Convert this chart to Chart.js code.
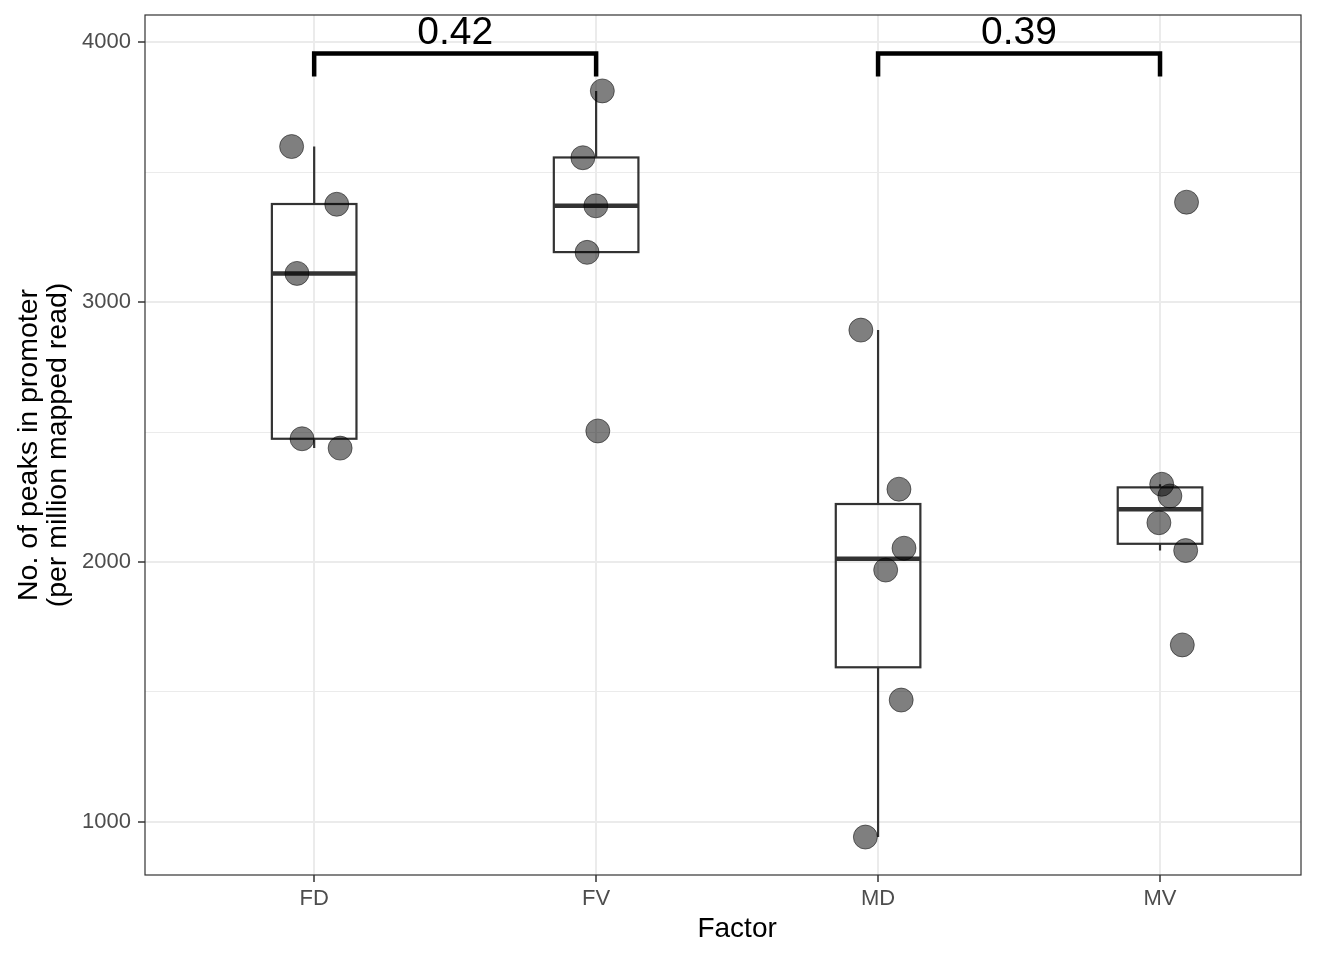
<!DOCTYPE html>
<html>
<head>
<meta charset="utf-8">
<script src="https://cdn.jsdelivr.net/npm/chart.js@4/dist/chart.umd.min.js"></script>
<style>
body { margin: 0; background: #fff; }
</style>
</head>
<body>
<canvas id="peakChart" width="1344" height="960"></canvas>
<script>
// categories
const factors = ["FD", "FV", "MD", "MV"];

// jittered points, x = category position + jitter
const fdX = [0.920, 1.080, 0.939, 0.957, 1.092];
const fdY = [3598, 3376, 3110, 2474, 2438];
const fvX = [2.022, 1.953, 1.999, 1.968, 2.006];
const fvY = [3812, 3555, 3370, 3191, 2504];
const mdX = [2.939, 3.074, 3.092, 3.027, 3.082, 2.955];
const mdY = [2892, 2280, 2053, 1969, 1469, 942];
const mvX = [4.094, 4.006, 4.035, 3.996, 4.091, 4.079];
const mvY = [3384, 2299, 2254, 2151, 2044, 1681];

// box statistics per factor
const boxLow    = [2438, 3191, 942, 2044];
const boxQ1     = [2474, 3192, 1595, 2070];
const boxMedian = [3110, 3370, 2012, 2203];
const boxQ3     = [3377, 3556, 2223, 2287];
const boxHigh   = [3598, 3812, 2892, 2299];

// comparison brackets
const compFrom  = [1, 3];
const compTo    = [2, 4];
const compLabel = ["0.42", "0.39"];
const bracketTop  = 3956;
const bracketFoot = 3867;
const labelBase   = 3992;

const yTicks = [1000, 1500, 2000, 2500, 3000, 3500, 4000];

Chart.defaults.font.family = "'Liberation Sans', Arial, sans-serif";

function pts(xs, ys) {
  return xs.map((x, i) => ({ x: x, y: ys[i] }));
}

const pointStyle = {
  type: "scatter",
  backgroundColor: "rgba(0,0,0,0.5)",
  borderColor: "rgba(0,0,0,0.5)",
  borderWidth: 1,
  pointRadius: 12,
  order: 1
};

const datasets = [
  Object.assign({ label: "FD", data: pts(fdX, fdY) }, pointStyle),
  Object.assign({ label: "FV", data: pts(fvX, fvY) }, pointStyle),
  Object.assign({ label: "MD", data: pts(mdX, mdY) }, pointStyle),
  Object.assign({ label: "MV", data: pts(mvX, mvY) }, pointStyle)
];

compFrom.forEach((a, i) => {
  const b = compTo[i];
  datasets.push({
    type: "line",
    label: "cmp" + i,
    data: [{ x: a, y: bracketFoot }, { x: a, y: bracketTop }, { x: b, y: bracketTop }, { x: b, y: bracketFoot }],
    borderColor: "#000",
    borderWidth: 4.5,
    borderJoinStyle: "miter",
    pointRadius: 0,
    fill: false,
    tension: 0,
    order: 0
  });
});

const boxPlugin = {
  id: "boxes",
  beforeDatasetsDraw(chart) {
    const { ctx, scales: { x, y } } = chart;
    ctx.save();
    ctx.strokeStyle = "#333333";
    factors.forEach((f, i) => {
      const cx = x.getPixelForValue(i + 1);
      const l = x.getPixelForValue(i + 1 - 0.15);
      const r = x.getPixelForValue(i + 1 + 0.15);
      const yq1 = y.getPixelForValue(boxQ1[i]);
      const yq3 = y.getPixelForValue(boxQ3[i]);
      const ym = y.getPixelForValue(boxMedian[i]);
      ctx.lineWidth = 2.2;
      ctx.beginPath();
      ctx.moveTo(cx, yq3); ctx.lineTo(cx, y.getPixelForValue(boxHigh[i]));
      ctx.moveTo(cx, yq1); ctx.lineTo(cx, y.getPixelForValue(boxLow[i]));
      ctx.stroke();
      ctx.strokeRect(l, yq3, r - l, yq1 - yq3);
      ctx.lineWidth = 4.5;
      ctx.beginPath();
      ctx.moveTo(l, ym); ctx.lineTo(r, ym);
      ctx.stroke();
    });
    ctx.restore();
  },
  afterDraw(chart) {
    const { ctx, chartArea: a, scales: { x, y } } = chart;
    ctx.save();
    // panel border
    ctx.strokeStyle = "#333333";
    ctx.lineWidth = 1.2;
    ctx.strokeRect(a.left, a.top, a.right - a.left, a.bottom - a.top);
    // p-values
    ctx.fillStyle = "#000";
    ctx.font = "39px 'Liberation Sans', Arial, sans-serif";
    ctx.textAlign = "center";
    ctx.textBaseline = "alphabetic";
    compLabel.forEach((t, i) => {
      ctx.fillText(t, x.getPixelForValue((compFrom[i] + compTo[i]) / 2), y.getPixelForValue(labelBase));
    });
    // x axis title
    ctx.font = "28px 'Liberation Sans', Arial, sans-serif";
    ctx.textBaseline = "middle";
    ctx.fillText("Factor", x.getPixelForValue(2.5), 929);
    ctx.restore();
  }
};

new Chart(document.getElementById("peakChart"), {
  type: "scatter",
  data: { datasets: datasets },
  options: {
    responsive: false,
    animation: false,
    devicePixelRatio: 1,
    layout: { padding: { left: 0, top: 15, right: 43, bottom: 0 } },
    plugins: { legend: { display: false }, tooltip: { enabled: false } },
    scales: {
      x: {
        type: "linear",
        min: 0.4,
        max: 4.5,
        afterBuildTicks: s => { s.ticks = factors.map((f, i) => ({ value: i + 1 })); },
        afterFit: s => { s.height = 85; s.paddingLeft = 0; s.paddingRight = 0; },
        ticks: {
          callback: v => factors[Math.round(v) - 1],
          color: "#4d4d4d",
          font: { size: 22 },
          padding: 4,
          maxRotation: 0,
          autoSkip: false
        },
        grid: { color: "#ebebeb", lineWidth: 2, tickColor: "#333333", tickWidth: 1.5, tickLength: 7 },
        border: { display: false }
      },
      y: {
        min: 796,
        max: 4104,
        afterBuildTicks: s => { s.ticks = yTicks.map(v => ({ value: v })); },
        afterFit: s => { s.width = 145; s.paddingTop = 0; s.paddingBottom = 0; },
        ticks: {
          callback: v => (v % 1000 === 0 ? String(v) : ""),
          color: "#4d4d4d",
          font: { size: 22 },
          padding: 7,
          autoSkip: false
        },
        grid: {
          color: "#ebebeb",
          lineWidth: c => (c.tick && c.tick.value % 1000 === 0 ? 2 : 1),
          tickColor: c => (c.tick && c.tick.value % 1000 === 0 ? "#333333" : "rgba(0,0,0,0)"),
          tickWidth: 1.5,
          tickLength: 7
        },
        border: { display: false },
        title: {
          display: true,
          text: ["No. of peaks in promoter", "(per million mapped read)"],
          color: "#000",
          font: { size: 28.5, lineHeight: 1 },
          padding: { top: 15, bottom: 0 }
        }
      }
    }
  },
  plugins: [boxPlugin]
});
</script>
</body>
</html>
